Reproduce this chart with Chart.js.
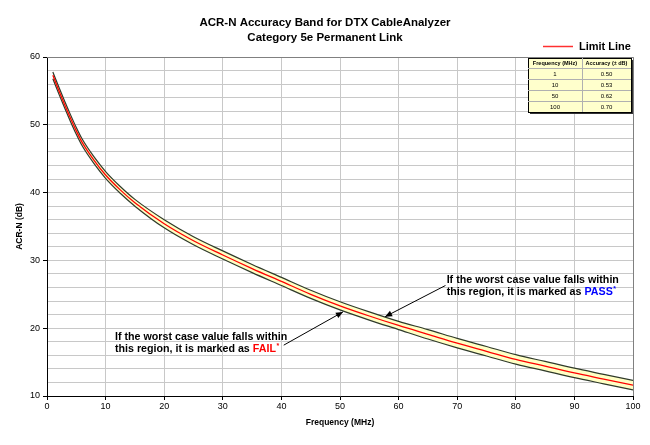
<!DOCTYPE html>
<html>
<head>
<meta charset="utf-8">
<script src="https://cdn.jsdelivr.net/npm/chart.js@4.4.0/dist/chart.umd.min.js"></script>
<style>
html,body{margin:0;padding:0;background:#fff;}
#wrap{width:650px;height:445px;position:relative;}
</style>
</head>
<body>
<div id="wrap"><canvas id="c" width="650" height="445"></canvas></div>
<script>
// ---- data ----
const frequencies = [1, 2, 3, 4, 5, 6, 8, 10, 12.5, 15, 20, 25, 30, 35, 40, 45, 50, 55, 60, 65, 70, 75, 80, 85, 90, 95, 100];
const limitLine   = [57.3, 55.1, 53.0, 51.0, 49.1, 47.4, 44.8, 42.6, 40.4, 38.5, 35.4, 32.9, 30.8, 28.8, 26.9, 25.0, 23.3, 21.8, 20.4, 19.1, 17.8, 16.6, 15.4, 14.4, 13.4, 12.5, 11.6];
const upperBand   = [57.8, 55.6, 53.5, 51.5, 49.6, 47.9, 45.3, 43.1, 40.9, 39.0, 36.0, 33.5, 31.4, 29.4, 27.5, 25.6, 23.9, 22.4, 21.0, 19.8, 18.5, 17.3, 16.1, 15.1, 14.1, 13.2, 12.3];
const lowerBand   = [56.8, 54.6, 52.5, 50.5, 48.6, 46.9, 44.3, 42.1, 39.9, 38.0, 34.8, 32.3, 30.2, 28.2, 26.3, 24.4, 22.7, 21.2, 19.8, 18.4, 17.1, 15.9, 14.7, 13.7, 12.7, 11.8, 10.9];
const tableFrequencies = ['1', '10', '50', '100'];
const tableAccuracy    = ['0.50', '0.53', '0.62', '0.70'];
const tableHeaders     = ['Frequency (MHz)', 'Accuracy (\u00b1 dB)'];
const titleLines = ['ACR-N Accuracy Band for DTX CableAnalyzer', 'Category 5e Permanent Link'];
const legendLabel = 'Limit Line';
const xTitle = 'Frequency (MHz)';
const yTitle = 'ACR-N (dB)';
const passNote = ['If the worst case value falls within', 'this region, it is marked as ', 'PASS', '*'];
const failNote = ['If the worst case value falls within', 'this region, it is marked as ', 'FAIL', '*'];
// annotation anchors in data units (MHz, dB)
const passTextAt = [68.2, 27.1];
const passArrow  = [[68.0, 26.3], [57.7, 21.7]];
const failTextAt = [11.6, 18.75];
const failArrow  = [[40.4, 17.5], [50.5, 22.4]];

const FONT = '"Liberation Sans", Arial, sans-serif';
const pts = arr => frequencies.map((f, i) => ({x: f, y: arr[i]}));

function arrow(ctx, x1, y1, x2, y2) {
  ctx.save();
  ctx.strokeStyle = '#000'; ctx.fillStyle = '#000'; ctx.lineWidth = 1;
  ctx.beginPath(); ctx.moveTo(x1, y1); ctx.lineTo(x2, y2); ctx.stroke();
  const a = Math.atan2(y2 - y1, x2 - x1), L = 7, W = 3;
  ctx.beginPath();
  ctx.moveTo(x2, y2);
  ctx.lineTo(x2 - L * Math.cos(a) + W * Math.sin(a), y2 - L * Math.sin(a) - W * Math.cos(a));
  ctx.lineTo(x2 - L * Math.cos(a) - W * Math.sin(a), y2 - L * Math.sin(a) + W * Math.cos(a));
  ctx.closePath(); ctx.fill();
  ctx.restore();
}

function note(ctx, x, y, lines, color) {
  ctx.save();
  ctx.font = 'bold 10.7px ' + FONT;
  ctx.textBaseline = 'middle'; ctx.textAlign = 'left';
  ctx.fillStyle = '#000';
  ctx.fillText(lines[0], x, y);
  const y2 = y + 12;
  ctx.fillText(lines[1], x, y2);
  let w = ctx.measureText(lines[1]).width;
  ctx.fillStyle = color;
  ctx.fillText(lines[2], x + w, y2);
  w += ctx.measureText(lines[2]).width;
  ctx.font = 'bold 7px ' + FONT;
  ctx.fillText(lines[3], x + w + 0.5, y2 - 3);
  ctx.restore();
}

const decor = {
  id: 'decor',
  beforeDraw(chart) {
    const ctx = chart.ctx;
    ctx.save(); ctx.fillStyle = '#fff'; ctx.fillRect(0, 0, chart.width, chart.height); ctx.restore();
  },
  beforeDatasetsDraw(chart) {
    const ctx = chart.ctx, a = chart.chartArea;
    ctx.save();
    ctx.strokeStyle = '#808080'; ctx.lineWidth = 1;
    ctx.beginPath();
    ctx.moveTo(a.left, Math.round(a.top) + 0.5);
    ctx.lineTo(Math.round(a.right) + 0.5, Math.round(a.top) + 0.5);
    ctx.lineTo(Math.round(a.right) + 0.5, a.bottom);
    ctx.stroke();
    ctx.restore();
  },
  afterDraw(chart) {
    const ctx = chart.ctx, sx = chart.scales.x, sy = chart.scales.y;
    const px = v => sx.getPixelForValue(v), py = v => sy.getPixelForValue(v);
    ctx.save();
    // title
    ctx.fillStyle = '#000';
    ctx.font = 'bold 11.5px ' + FONT;
    ctx.textAlign = 'center'; ctx.textBaseline = 'middle';
    ctx.fillText(titleLines[0], 325, 22.5);
    ctx.fillText(titleLines[1], 325, 37.5);
    // legend
    ctx.strokeStyle = '#ff3030'; ctx.lineWidth = 1.5;
    ctx.beginPath(); ctx.moveTo(543, 46.5); ctx.lineTo(573, 46.5); ctx.stroke();
    ctx.font = 'bold 11px ' + FONT;
    ctx.textAlign = 'left';
    ctx.fillText(legendLabel, 579, 46.5);
    // accuracy table
    const tx = 528, ty = 58, tw = 103, hh = 10, rh = 11, c1 = 582;
    const th = hh + rh * tableFrequencies.length;
    ctx.fillStyle = '#333';
    ctx.fillRect(tx + 2, ty + 2, tw, th);
    ctx.fillStyle = '#ffffcc';
    ctx.fillRect(tx, ty, tw, th);
    ctx.strokeStyle = '#000'; ctx.lineWidth = 1;
    ctx.strokeRect(tx + 0.5, ty + 0.5, tw, th);
    ctx.strokeStyle = '#b0b0b0';
    ctx.beginPath();
    ctx.moveTo(c1 + 0.5, ty); ctx.lineTo(c1 + 0.5, ty + th);
    for (let i = 0; i < tableFrequencies.length; i++) {
      const yy = ty + hh + rh * i + 0.5;
      ctx.moveTo(tx, yy); ctx.lineTo(tx + tw, yy);
    }
    ctx.stroke();
    ctx.fillStyle = '#000';
    ctx.textAlign = 'center';
    ctx.font = 'bold 5.5px ' + FONT;
    ctx.fillText(tableHeaders[0], (tx + c1) / 2, ty + hh / 2 + 0.5);
    ctx.fillText(tableHeaders[1], (c1 + tx + tw) / 2, ty + hh / 2 + 0.5);
    ctx.font = '6px ' + FONT;
    for (let i = 0; i < tableFrequencies.length; i++) {
      const yy = ty + hh + rh * i + rh / 2 + 1;
      ctx.fillText(tableFrequencies[i], (tx + c1) / 2, yy);
      ctx.fillText(tableAccuracy[i], (c1 + tx + tw) / 2, yy);
    }
    ctx.restore();
    // annotations
    note(ctx, px(passTextAt[0]), py(passTextAt[1]), passNote, '#0000ff');
    note(ctx, px(failTextAt[0]), py(failTextAt[1]), failNote, '#ff0000');
    arrow(ctx, px(passArrow[0][0]), py(passArrow[0][1]), px(passArrow[1][0]), py(passArrow[1][1]));
    arrow(ctx, px(failArrow[0][0]), py(failArrow[0][1]), px(failArrow[1][0]), py(failArrow[1][1]));
  }
};

const bandColor = '#2f3a2a';
new Chart(document.getElementById('c'), {
  type: 'line',
  data: {
    datasets: [
      { label: 'Upper', data: pts(upperBand), borderColor: bandColor, borderWidth: 1.2,
        backgroundColor: '#ffffc4', fill: '+1', pointRadius: 0, cubicInterpolationMode: 'monotone', order: 2 },
      { label: 'Lower', data: pts(lowerBand), borderColor: bandColor, borderWidth: 1.2,
        fill: false, pointRadius: 0, cubicInterpolationMode: 'monotone', order: 1 },
      { label: legendLabel, data: pts(limitLine), borderColor: '#ff0000', borderWidth: 1.3,
        fill: false, pointRadius: 0, cubicInterpolationMode: 'monotone', order: 0 }
    ]
  },
  options: {
    responsive: false,
    animation: false,
    devicePixelRatio: 1,
    layout: { padding: { left: 0, right: 17, top: 57, bottom: 0 } },
    plugins: { legend: { display: false }, title: { display: false }, tooltip: { enabled: false } },
    scales: {
      x: {
        type: 'linear', min: 0, max: 100,
        afterFit: s => { s.height = 49; },
        ticks: { stepSize: 10, autoSkip: false, maxRotation: 0, padding: 1.5, color: '#000', font: { family: FONT, size: 9 } },
        grid: { color: '#c8c8c8', lineWidth: 1, tickLength: 4, tickColor: '#000' },
        border: { color: '#000', width: 1 },
        title: { display: true, text: xTitle, color: '#000', font: { family: FONT, size: 8.5, weight: 'bold' }, padding: { top: 0, bottom: 17 } }
      },
      y: {
        min: 10, max: 60,
        afterFit: s => { s.width = 47; },
        ticks: { stepSize: 2, autoSkip: false, padding: 3, color: '#000', font: { family: FONT, size: 9 },
          callback: v => (v % 10 === 0 ? String(v) : '') },
        grid: { color: '#c8c8c8', lineWidth: 1, tickLength: 4,
          tickColor: c => (c.tick && c.tick.value % 10 === 0 ? '#000' : 'rgba(0,0,0,0)') },
        border: { color: '#000', width: 1 },
        title: { display: true, text: yTitle, color: '#000', font: { family: FONT, size: 8.5, weight: 'bold' }, padding: { top: 14.5, bottom: 0 } }
      }
    }
  },
  plugins: [decor]
});
</script>
</body>
</html>
